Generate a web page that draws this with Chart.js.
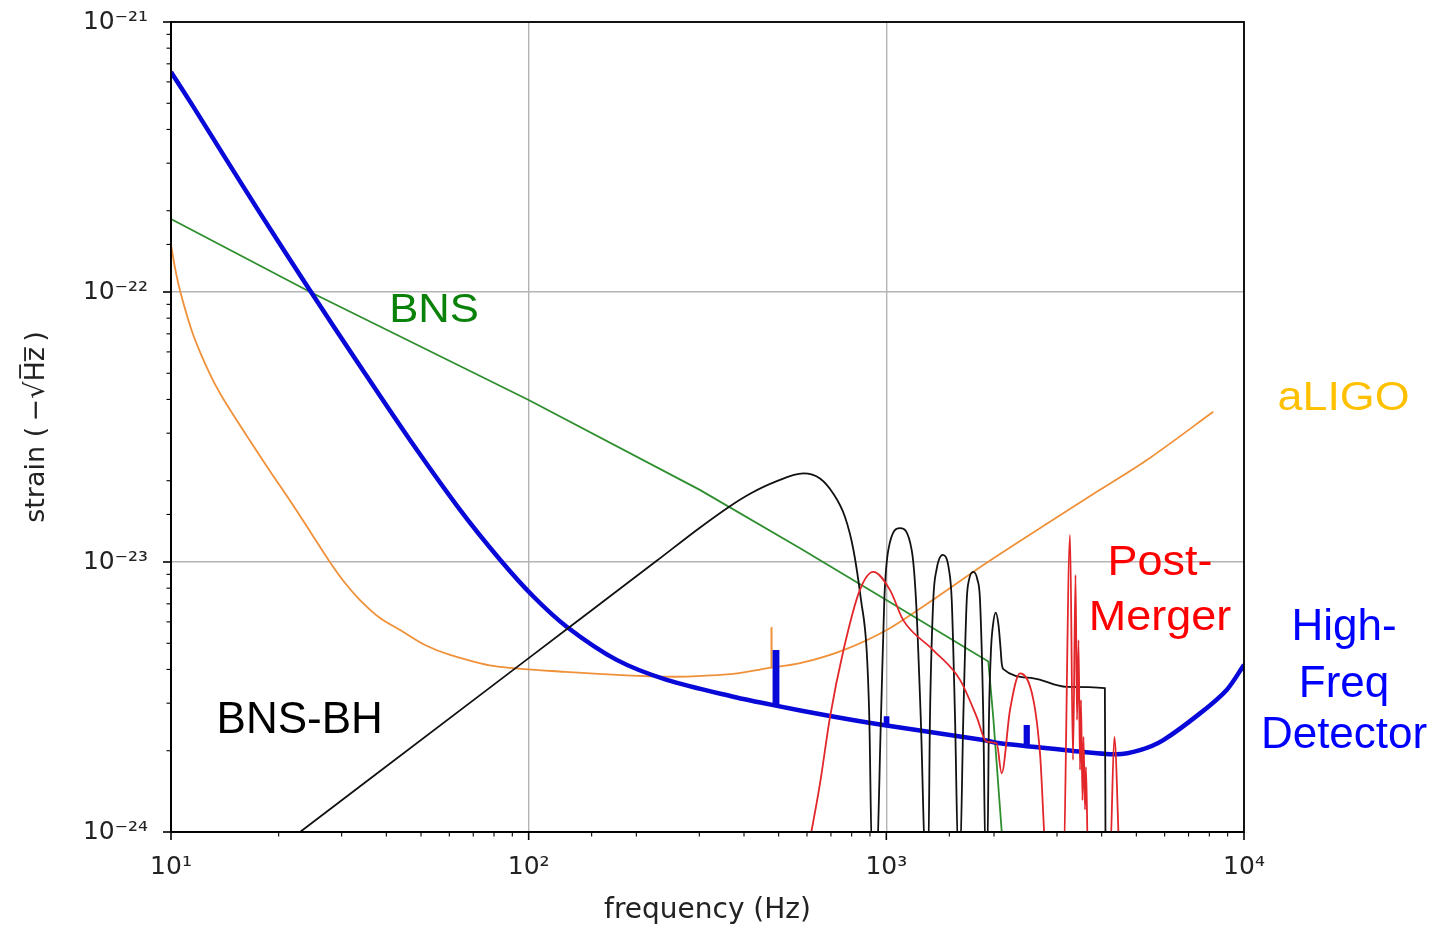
<!DOCTYPE html>
<html>
<head>
<meta charset="utf-8">
<title>Strain vs frequency</title>
<script src="https://cdn.jsdelivr.net/npm/chart.js@4.4.1/dist/chart.umd.min.js"></script>
<style>
  html, body { margin: 0; padding: 0; background: #fff; }
  #wrap { width: 1444px; height: 928px; }
</style>
</head>
<body>
<div id="wrap"><canvas id="chart" width="1444" height="928"></canvas></div>
<script>
/* ---- data (Hz, strain) ---- */
const xRange = [10, 1e4];
const yRange = [1e-24, 1e-21];
const xDecades = [1, 2, 3, 4];
const yDecades = [-24, -23, -22, -21];

// High-Freq detector (thick blue), smooth part
const hfFreq   = [10, 11.54, 14.31, 17.74, 24.5, 33.76, 46.58, 64.3, 83.2, 103.1, 127.7, 176.2, 243.3, 373.4, 483,
                  696, 980.6, 1867, 2079, 3194, 4405, 5120, 5948, 7534, 8946, 10000];
const hfStrain = [6.53e-22, 4.86e-22, 3.08e-22, 1.96e-22, 1.01e-22, 5.32e-23, 2.83e-23, 1.56e-23, 1.02e-23, 7.45e-24, 5.76e-24, 4.34e-24, 3.66e-24, 3.17e-24, 2.95e-24,
                  2.69e-24, 2.49e-24, 2.19e-24, 2.13e-24, 2.01e-24, 1.94e-24, 2.01e-24, 2.19e-24, 2.75e-24, 3.36e-24, 4.16e-24];
// narrow lines sticking out of the blue curve (null = gap)
const hfSpikeFreq   = [487, 487, 496, 496, 700, 996, 996, 1007, 1007, 1500, 2452, 2452, 2487, 2487];
const hfSpikeStrain = [2.93e-24, 4.64e-24, 4.64e-24, 2.92e-24, null, 2.49e-24, 2.64e-24, 2.64e-24, 2.48e-24, null, 2.08e-24, 2.45e-24, 2.45e-24, 2.07e-24];

// aLIGO (orange)
const aligoFreq   = [10, 10.26, 10.6, 11.18, 11.54, 12.05, 12.58, 13.27, 14.16, 16.63, 18.92, 21.76, 24.74, 27.8, 30.66, 33.76, 38.4,
                     43.7, 51.3, 60.3, 79.6, 122, 243.3, 373.4, 463, 574, 759, 1002, 1383, 1908, 2867, 3955, 5458, 8204];
const aligoStrain = [1.5e-22, 1.23e-22, 1.01e-22, 7.87e-23, 6.93e-23, 6.0e-23, 5.27e-23, 4.56e-23, 3.92e-23, 2.81e-23, 2.17e-23, 1.65e-23, 1.27e-23, 1.0e-23, 8.36e-24, 7.23e-24, 6.2e-24,
                     5.6e-24, 4.93e-24, 4.53e-24, 4.12e-24, 3.93e-24, 3.76e-24, 3.85e-24, 4.04e-24, 4.22e-24, 4.72e-24, 5.6e-24, 7.41e-24, 9.94e-24, 1.41e-23, 1.85e-23, 2.43e-23, 3.6e-23];
const aligoSpikeFreq   = [477.5, 477.5];
const aligoSpikeStrain = [4.08e-24, 5.74e-24];

// BNS inspiral (green)
const bnsFreq   = [10, 24.5, 100, 301, 574, 1000, 1928, 1990, 2120];
const bnsStrain = [1.864e-22, 1.0e-22, 3.98e-23, 1.85e-23, 1.125e-23, 7.23e-24, 4.28e-24, 2.67e-24, 8.6e-25];

// BNS-BH (black)
const bhFreq   = [22.95, 83.2, 128.8, 228, 301, 365.5, 416, 488.4, 586, 652.4, 711, 766, 809, 849.6, 881, 896, 912,
                  938.6, 966.2, 987.0, 1012.7, 1092, 1177.4, 1210.5, 1247.8, 1286.8,
                  1310, 1324.5, 1352.9, 1381, 1438, 1497.4, 1523.5, 1556, 1589,
                  1606.9, 1641.6, 1678, 1702.6, 1750.5, 1798.4, 1827.6, 1866.7, 1893.5,
                  1915.6, 1936.5, 1961.6, 1987, 2022, 2058.8, 2088, 2101.5, 2124, 2578, 3190, 4083, 4101];
const bhStrain = [1e-24, 3.66e-24, 5.68e-24, 1.01e-23, 1.34e-23, 1.61e-23, 1.79e-23, 1.98e-23, 2.13e-23, 2.04e-23, 1.79e-23, 1.47e-23, 1.11e-23, 7.23e-24, 4.72e-24, 2.67e-24, 8e-25,
                  8e-25, 2.67e-24, 7.23e-24, 1.107e-23, 1.334e-23, 1.107e-23, 7.23e-24, 2.67e-24, 8e-25,
                  8e-25, 2.67e-24, 7.23e-24, 9.34e-24, 1.062e-23, 9.34e-24, 7.23e-24, 2.67e-24, 8e-25,
                  8e-25, 2.67e-24, 7.23e-24, 8.58e-24, 9.2e-24, 8.58e-24, 7.23e-24, 2.67e-24, 8e-25,
                  8e-25, 2.67e-24, 4.72e-24, 5.84e-24, 6.49e-24, 5.84e-24, 4.72e-24, 4.22e-24, 4.01e-24, 3.71e-24, 3.45e-24, 3.41e-24, 8e-25];

// Post-merger (red)
const pmFreq   = [598, 652.4, 696, 759, 843, 919, 1024, 1115, 1352, 1607, 1789, 1906, 2035, 2101, 2217, 2364, 2578, 2689, 2806,
                  3125, 3263, 3326, 3380, 3413, 3446, 3480, 3502, 3535, 3558, 3593, 3616, 3663,
                  4220, 4340, 4481];
const pmStrain = [8e-25, 1.51e-24, 2.67e-24, 4.72e-24, 7.87e-24, 9.2e-24, 7.87e-24, 6.09e-24, 4.72e-24, 3.66e-24, 2.67e-24, 2.16e-24, 2.13e-24, 1.65e-24, 2.83e-24, 3.87e-24, 3.08e-24, 1.96e-24, 8e-25,
                  8e-25, 1.26e-23, 1.85e-24, 8.95e-24, 2.60e-24, 5.14e-24, 1.70e-24, 3.08e-24, 1.31e-24, 2.25e-24, 1.21e-24, 1.74e-24, 8e-25,
                  8e-25, 2.25e-24, 8e-25];

/* ---- text notes placed in data coords ---- */
const notes = [
  { text: 'BNS',      f: 54.4,  h: 7.74e-23, color: '#0a820a', size: 40, sx: 1.09 },
  { text: 'BNS-BH',   f: 22.9,  h: 2.33e-24, color: '#000000', size: 44, sx: 1 },
  { text: 'aLIGO',    f: 18980, h: 3.66e-23, color: '#ffc000', size: 40, sx: 1.12 },
  { text: 'Post-',    f: 5824,  h: 8.95e-24, color: '#ff0000', size: 42, sx: 1.07 },
  { text: 'Merger',   f: 5824,  h: 5.6e-24,  color: '#ff0000', size: 42, sx: 1.07 },
  { text: 'High-',    f: 19040, h: 5.14e-24, color: '#0000ff', size: 44, sx: 1 },
  { text: 'Freq',     f: 19040, h: 3.16e-24, color: '#0000ff', size: 44, sx: 1 },
  { text: 'Detector', f: 19040, h: 2.05e-24, color: '#0000ff', size: 44, sx: 1 },
];

/* ---- helpers ---- */
const GRID = '#b4b4b4';
const SUP = { '-': '\u207B', '0': '\u2070', '1': '\u00B9', '2': '\u00B2', '3': '\u00B3', '4': '\u2074',
              '5': '\u2075', '6': '\u2076', '7': '\u2077', '8': '\u2078', '9': '\u2079' };

const isDecade = (v) => {
  if (!v) return false;
  const l = Math.log10(v);
  return Math.abs(l - Math.round(l)) < 1e-6;
};
const decadeLabel = (v, decades) => {
  if (!isDecade(v)) return '';
  const e = Math.round(Math.log10(v));
  if (!decades.includes(e)) return '';
  return '10' + String(e).split('').map(c => SUP[c]).join('');
};
const pts = (fs, hs) => fs.map((f, i) => ({ x: f, y: hs[i] }));

// frame on all four sides + outward ticks (decades longer)
const frameTicks = {
  id: 'frameTicks',
  afterDraw(chart) {
    const { ctx, chartArea: a, scales: { x, y } } = chart;
    ctx.save();
    ctx.strokeStyle = '#000';
    x.ticks.forEach(t => {
      const p = x.getPixelForValue(t.value), major = isDecade(t.value);
      ctx.lineWidth = major ? 1.6 : 1.1;
      ctx.beginPath(); ctx.moveTo(p, a.bottom); ctx.lineTo(p, a.bottom + (major ? 8 : 4.5)); ctx.stroke();
    });
    y.ticks.forEach(t => {
      const p = y.getPixelForValue(t.value), major = isDecade(t.value);
      ctx.lineWidth = major ? 1.6 : 1.1;
      ctx.beginPath(); ctx.moveTo(a.left, p); ctx.lineTo(a.left - (major ? 8 : 4.5), p); ctx.stroke();
    });
    ctx.lineWidth = 1.8;
    ctx.strokeRect(a.left, a.top, a.right - a.left, a.bottom - a.top);
    ctx.restore();
  }
};

const textNotes = {
  id: 'textNotes',
  afterDraw(chart) {
    const { ctx, scales: { x, y } } = chart;
    notes.forEach(n => {
      ctx.save();
      ctx.translate(x.getPixelForValue(n.f), y.getPixelForValue(n.h));
      ctx.scale(n.sx, 1);
      ctx.font = `${n.size}px "Liberation Sans", Arial, sans-serif`;
      ctx.fillStyle = n.color;
      ctx.textAlign = 'center';
      ctx.textBaseline = 'alphabetic';
      ctx.fillText(n.text, 0, 0);
      ctx.restore();
    });
  }
};

const gridColor = (c) => (c.tick && isDecade(c.tick.value)) ? GRID : 'rgba(0,0,0,0)';
const tickFont = { family: 'DejaVu Sans', size: 25 };

const BLUE = '#0808d8', ORANGE = '#f0913a';

new Chart(document.getElementById('chart'), {
  type: 'line',
  data: {
    datasets: [
      { label: 'Post-Merger', data: pts(pmFreq, pmStrain), borderColor: '#e3262a', borderWidth: 1.8,
        cubicInterpolationMode: 'monotone' },
      { label: 'BNS-BH', data: pts(bhFreq, bhStrain), borderColor: '#111111', borderWidth: 1.8,
        cubicInterpolationMode: 'monotone' },
      { label: 'High-Freq lines', data: pts(hfSpikeFreq, hfSpikeStrain), borderColor: BLUE, borderWidth: 4,
        tension: 0, spanGaps: false },
      { label: 'High-Freq Detector', data: pts(hfFreq, hfStrain), borderColor: BLUE, borderWidth: 4.5, tension: 0.3 },
      { label: 'BNS', data: pts(bnsFreq, bnsStrain), borderColor: '#2f8f2f', borderWidth: 1.8, tension: 0 },
      { label: 'aLIGO line', data: pts(aligoSpikeFreq, aligoSpikeStrain), borderColor: ORANGE, borderWidth: 2, tension: 0 },
      { label: 'aLIGO', data: pts(aligoFreq, aligoStrain), borderColor: ORANGE, borderWidth: 1.8, tension: 0.3 },
    ]
  },
  options: {
    responsive: false,
    animation: false,
    layout: { padding: { left: 0, right: 200, top: 22, bottom: 0 } },
    elements: {
      point: { radius: 0, hoverRadius: 0 },
      line: { fill: false }
    },
    plugins: { legend: { display: false }, tooltip: { enabled: false } },
    scales: {
      x: {
        type: 'logarithmic', min: xRange[0], max: xRange[1],
        afterFit: (s) => { s.height = 96; s.paddingLeft = 0; s.paddingRight = 0; },
        border: { color: '#000', width: 1.8 },
        grid: { color: gridColor, lineWidth: 1.4, drawTicks: false },
        ticks: { autoSkip: false, maxRotation: 0, padding: 20, color: '#222', font: tickFont,
                 callback: (v) => decadeLabel(v, xDecades) },
        title: { display: true, text: 'frequency (Hz)', color: '#222',
                 font: { family: 'DejaVu Sans', size: 28 }, padding: { top: 0, bottom: 0 } }
      },
      y: {
        type: 'logarithmic', min: yRange[0], max: yRange[1],
        // keep plot box at fixed pixels: no extra room for label overhang
        afterFit: (s) => { s.width = 171; s.paddingTop = 0; s.paddingBottom = 0; },
        border: { color: '#000', width: 1.8 },
        grid: { color: gridColor, lineWidth: 1.4, drawTicks: false },
        ticks: { autoSkip: false, padding: 23, color: '#222', font: tickFont,
                 callback: (v) => decadeLabel(v, yDecades) },
        title: { display: true, text: 'strain (\u2009\u2212\u221AH\u0305z\u0305\u2009)', color: '#222',
                 font: { family: 'DejaVu Sans', size: 27 }, padding: { top: 21, bottom: 0 } }
      }
    }
  },
  plugins: [frameTicks, textNotes]
});
</script>
</body>
</html>
